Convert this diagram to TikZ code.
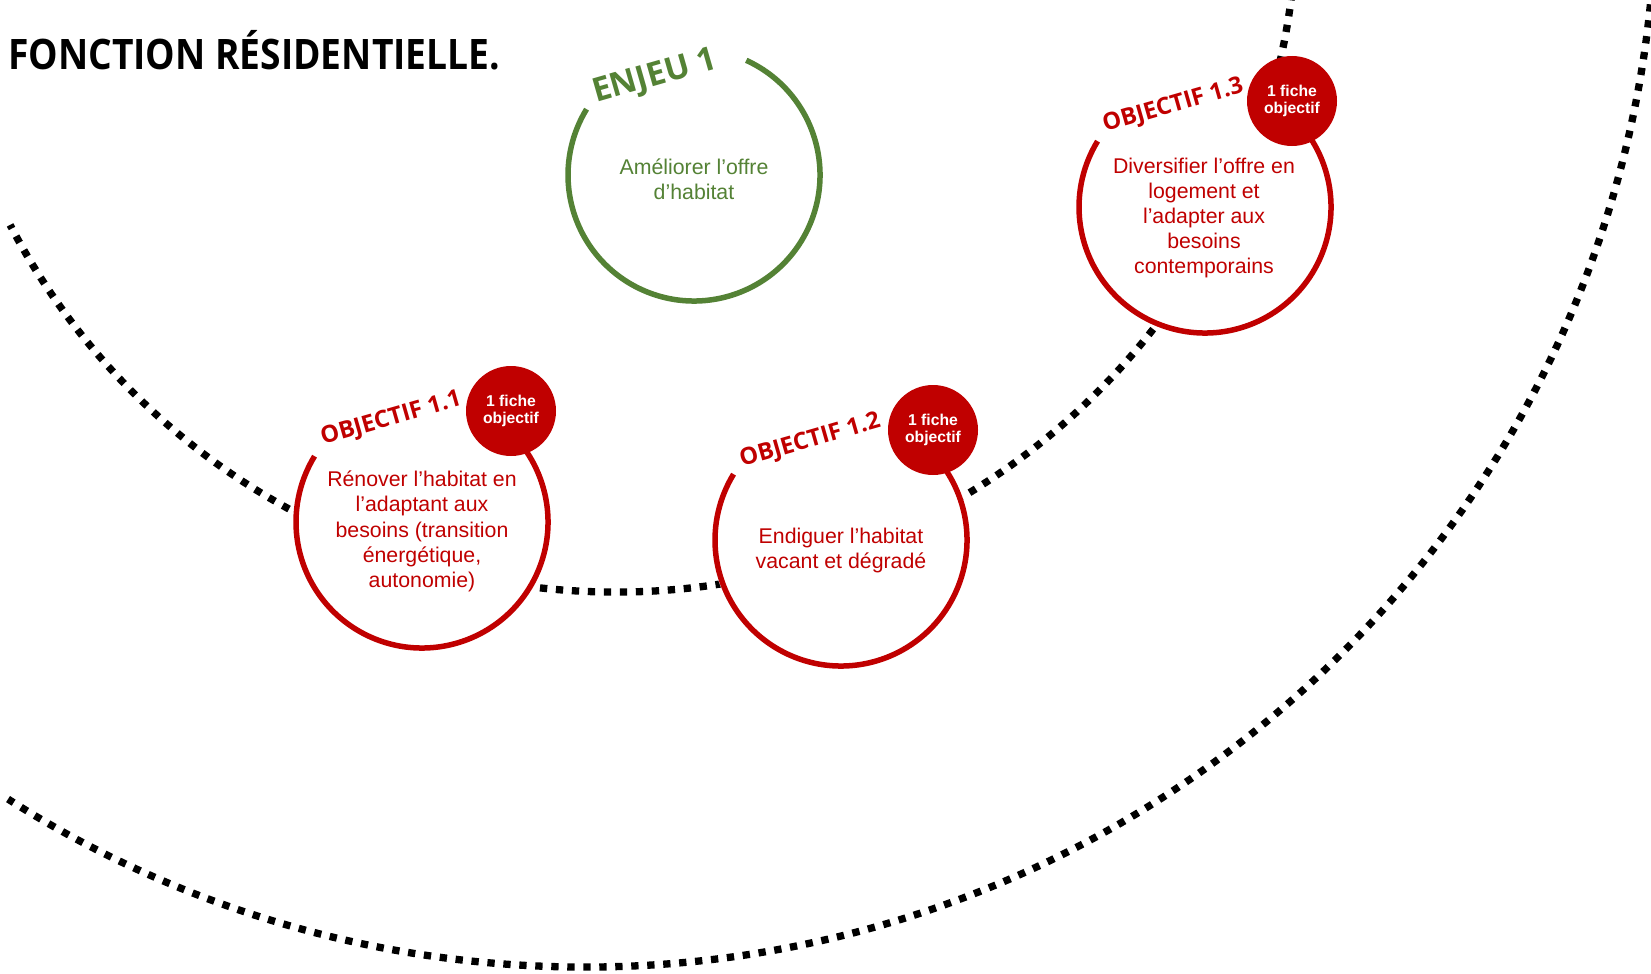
\documentclass[tikz,border=0pt]{standalone}
\usepackage{fontspec}
\setmainfont{Liberation Sans}
\newfontfamily\headfont{Open Sans}
\definecolor{rouge}{RGB}{192,0,0}
\definecolor{vert}{RGB}{84,130,53}
\begin{document}
\begin{tikzpicture}[x=1pt,y=-1pt,
  dotline/.style={line width=7.3pt, dash pattern=on 7.3pt off 8.7pt},
  ring/.style={line width=5.5pt},
  bodytext/.style={align=center, inner sep=0pt, font=\fontsize{21.3}{25.2}\selectfont},
  badge/.style={circle, fill=rouge, minimum size=90pt, inner sep=0pt, text=white, align=center, font=\bfseries\fontsize{15.7}{17.7}\selectfont},
  lbl/.style={anchor=base west, rotate=16, inner sep=0pt, font=\headfont\bfseries\fontsize{23.6}{25}\selectfont}
]
\useasboundingbox (0,0) rectangle (1651,974);
\fill[white] (0,0) rectangle (1651,974);
\begin{scope}
\clip (0,0) rectangle (1651,974);
\draw[dotline] (615,-90) ++(7:682) arc[start angle=7, end angle=152.5, radius=682];
\draw[dotline] (584,-105) ++(5:1072) arc[start angle=5, end angle=122.5, radius=1072];
\end{scope}

\coordinate (E) at (694,175);
\coordinate (O1) at (422,522);
\coordinate (O2) at (841,540);
\coordinate (O3) at (1205,207);

\foreach \c in {E,O1,O2,O3} \fill[white] (\c) circle[radius=129];

\draw[vert, ring] (E) ++(-65.5:126) arc[start angle=-65.5, end angle=211.5, radius=126];
\draw[rouge, ring] (O1) ++(-65:126) arc[start angle=-65, end angle=211.5, radius=126];
\draw[rouge, ring] (O2) ++(-65:126) arc[start angle=-65, end angle=211.5, radius=126];
\draw[rouge, ring] (O3) ++(-65:126) arc[start angle=-65, end angle=211.5, radius=126];

\node[badge] (B1) at ([shift={(89,-111)}]O1) {1 fiche\\objectif};
\node[badge] (B2) at ([shift={(92,-110)}]O2) {1 fiche\\objectif};
\node[badge] (B3) at ([shift={(87,-106)}]O3) {1 fiche\\objectif};

\node[lbl, text=vert, font=\headfont\bfseries\fontsize{33}{35}\selectfont] (LE) at ([shift={(-98,-72)}]E) {ENJEU 1};
\node[lbl, text=rouge] (L1) at ([shift={(-99,-77)}]O1) {OBJECTIF 1.1};
\node[lbl, text=rouge] (L2) at ([shift={(-99,-73)}]O2) {OBJECTIF 1.2};
\node[lbl, text=rouge] (L3) at ([shift={(-100,-75)}]O3) {OBJECTIF 1.3};

\node[bodytext, text=vert] (TE) at (694,179.6) {Améliorer l’offre\\d’habitat};
\node[bodytext, text=rouge] (T1) at (422,531.4) {Rénover l’habitat en\\l’adaptant aux\\besoins (transition\\énergétique,\\autonomie)};
\node[bodytext, text=rouge] (T2) at (841,550.2) {Endiguer l’habitat\\vacant et dégradé};
\node[bodytext, text=rouge] (T3) at (1204,218) {Diversifier l’offre en\\logement et\\l’adapter aux\\besoins\\contemporains};

\node[anchor=base west, inner sep=0pt, font=\headfont\bfseries\fontsize{42}{42}\selectfont] (TT) at (8,69.3) {\scalebox{0.885}[1]{FONCTION RÉSIDENTIELLE.}};
\end{tikzpicture}
\end{document}
